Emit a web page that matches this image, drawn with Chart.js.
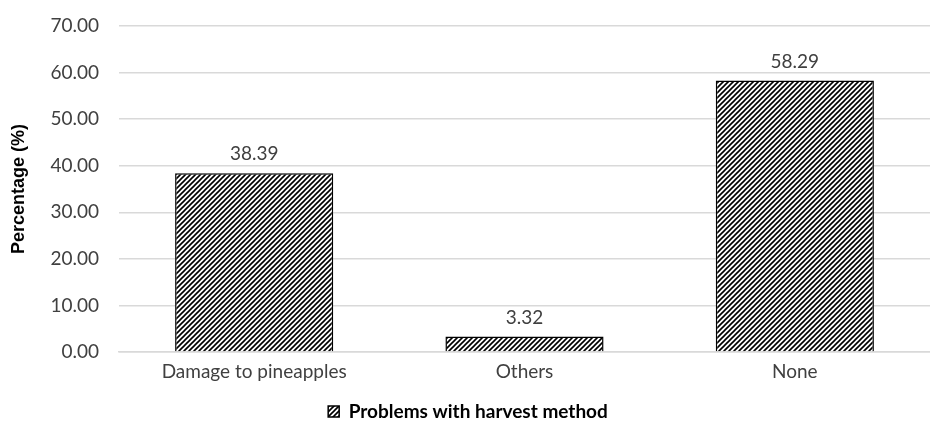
<!DOCTYPE html>
<html>
<head>
<meta charset="utf-8">
<script src="https://cdn.jsdelivr.net/npm/chart.js@4"></script>
<style>
  html, body { margin: 0; padding: 0; background: #fff; }
  #wrap { width: 930px; height: 441px; }
</style>
</head>
<body>
<div id="wrap"><canvas id="chart" width="930" height="441"></canvas></div>
<script>
// data
const categories = ['Damage to pineapples', 'Others', 'None'];
const percentages = [38.39, 3.32, 58.29];
const seriesName = 'Problems with harvest method';
const yTickStep = 10;
const yMax = 70;

// diagonal hatch fill like the Excel "wide upward diagonal" pattern
function makeHatch() {
  const size = 5;
  const c = document.createElement('canvas');
  c.width = size; c.height = size;
  const g = c.getContext('2d');
  g.fillStyle = '#fff';
  g.fillRect(0, 0, size, size);
  g.strokeStyle = '#000';
  g.lineWidth = 1.6;
  g.beginPath();
  g.moveTo(-1, size + 1); g.lineTo(size + 1, -1);
  g.moveTo(-1, 1); g.lineTo(1, -1);
  g.moveTo(size - 1, size + 1); g.lineTo(size + 1, size - 1);
  g.stroke();
  return g.createPattern(c, 'repeat');
}

// value labels above the bars
const valueLabels = {
  id: 'valueLabels',
  afterDatasetsDraw(chart) {
    const ctx = chart.ctx;
    const meta = chart.getDatasetMeta(0);
    ctx.save();
    ctx.font = '19px Lato';
    ctx.fillStyle = '#404040';
    ctx.textAlign = 'center';
    ctx.textBaseline = 'middle';
    meta.data.forEach((bar, i) => {
      ctx.fillText(percentages[i].toFixed(2), bar.x, bar.y - 19);
    });
    ctx.restore();
  }
};

const hatch = makeHatch();

new Chart(document.getElementById('chart'), {
  type: 'bar',
  data: {
    labels: categories,
    datasets: [{
      label: seriesName,
      data: percentages,
      backgroundColor: hatch,
      borderColor: '#000',
      borderWidth: 1.5,
      barPercentage: 0.585,
      categoryPercentage: 1
    }]
  },
  options: {
    responsive: false,
    animation: false,
    layout: { padding: { top: 26, right: 0, left: 6, bottom: 10 } },
    plugins: {
      tooltip: { enabled: false },
      legend: {
        position: 'bottom',
        labels: {
          color: '#000',
          font: { family: 'Lato', size: 19, weight: 'bold' },
          boxWidth: 11,
          boxHeight: 11,
          padding: 6
        }
      }
    },
    scales: {
      y: {
        min: 0,
        max: yMax,
        ticks: {
          stepSize: yTickStep,
          color: '#404040',
          font: { family: 'Lato', size: 19 },
          padding: 20,
          callback: v => v.toFixed(2)
        },
        grid: { color: '#d9d9d9', lineWidth: 1.5, drawTicks: false },
        border: { display: false },
        title: {
          display: true,
          text: 'Percentage (%)',
          color: '#000',
          font: { family: 'Liberation Sans', size: 18, weight: 'bold' },
          padding: 2
        },
        afterFit(scale) {
          scale.width = 113;
          scale.paddingTop = 0;
          scale.paddingBottom = 0;
        }
      },
      x: {
        ticks: {
          color: '#404040',
          font: { family: 'Lato', size: 19 },
          padding: 0
        },
        grid: { display: false },
        border: { color: '#d9d9d9', width: 1.5 },
        afterFit(scale) { scale.height = 44; }
      }
    }
  },
  plugins: [valueLabels]
});
</script>
</body>
</html>
